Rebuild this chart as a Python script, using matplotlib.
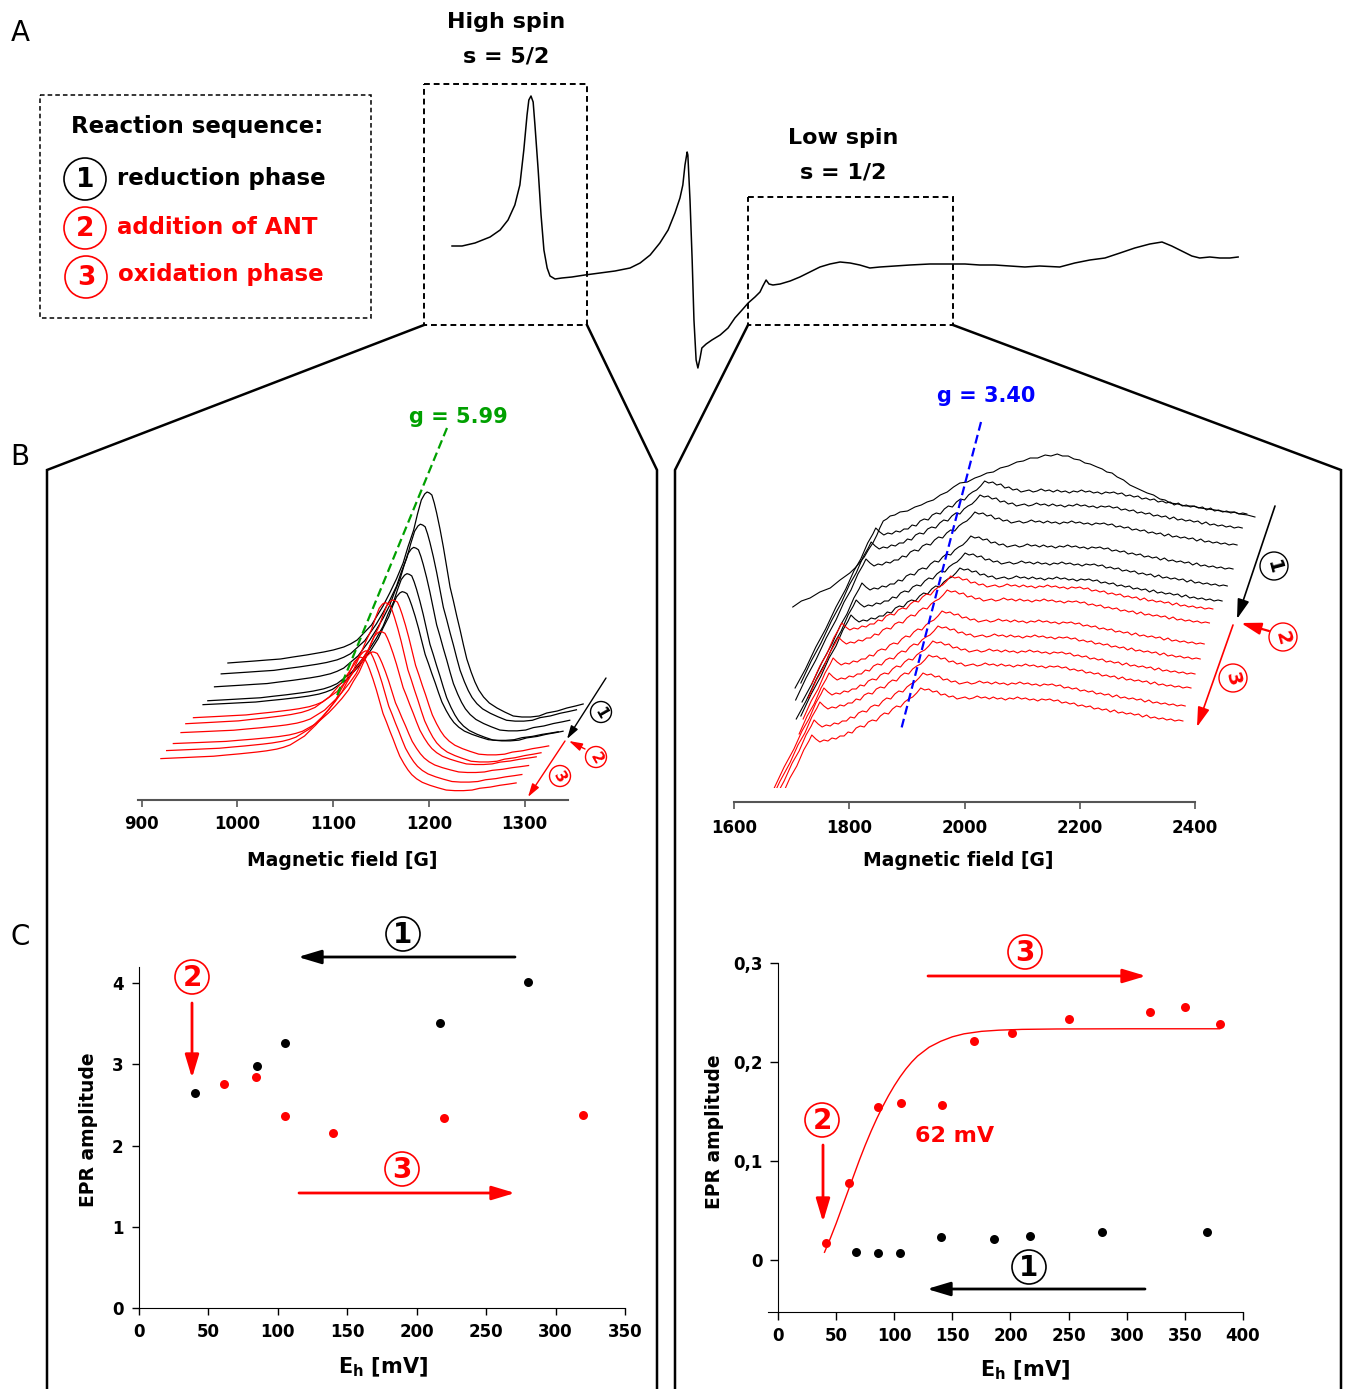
import numpy as np
import matplotlib
matplotlib.use("Agg")
import matplotlib.pyplot as plt
from matplotlib.patches import Rectangle, Circle

plt.rcParams['font.family'] = ['DejaVu Sans']
plt.rcParams['mathtext.fontset'] = 'dejavusans'

# ------------------------------------------------------------------ data
# Panel A: overview EPR spectrum (field in G, signal in a.u.)
a_field = [900, 928, 964, 1006, 1034, 1056, 1075, 1089, 1100, 1109, 1114, 1120, 1126, 1131, 1140, 1148,
           1156, 1165, 1173, 1187, 1206, 1234, 1270, 1312, 1354, 1396, 1424, 1452, 1479, 1502, 1521,
           1535, 1543, 1549, 1555, 1557, 1563, 1569, 1574, 1580, 1585, 1591, 1596, 1608, 1624, 1647,
           1669, 1688, 1708, 1725, 1744, 1758, 1766, 1775, 1783, 1794, 1814, 1842, 1869, 1897, 1925,
           1953, 1981, 2009, 2036, 2064, 2092, 2134, 2176, 2231, 2287, 2329, 2370, 2412, 2454, 2496,
           2537, 2593, 2635, 2677, 2719, 2761, 2802, 2844, 2878, 2905, 2933, 2961, 2983, 3011, 3039,
           3067, 3090]
a_signal = [0.54, 0.54, 0.57, 0.63, 0.70, 0.80, 0.95, 1.15, 1.50, 1.85, 2.00, 2.04, 1.98, 1.75, 1.30,
            0.85, 0.50, 0.32, 0.24, 0.21, 0.22, 0.23, 0.25, 0.27, 0.29, 0.32, 0.37, 0.45, 0.57, 0.70,
            0.87, 1.02, 1.15, 1.35, 1.48, 1.45, 1.00, 0.40, -0.20, -0.60, -0.68, -0.58, -0.48, -0.44,
            -0.40, -0.35, -0.28, -0.18, -0.10, -0.03, 0.03, 0.08, 0.14, 0.20, 0.16, 0.15, 0.16, 0.19,
            0.23, 0.28, 0.33, 0.36, 0.38, 0.37, 0.35, 0.32, 0.33, 0.34, 0.35, 0.36, 0.36, 0.36, 0.35,
            0.35, 0.34, 0.33, 0.34, 0.33, 0.37, 0.40, 0.42, 0.47, 0.52, 0.56, 0.58, 0.54, 0.49, 0.44,
            0.42, 0.43, 0.42, 0.42, 0.43]

# Panel B left: high-spin line shape of the first reduction trace (G, a.u. above baseline)
hs_field = [990, 1004, 1018, 1031, 1045, 1058, 1072, 1090, 1100, 1111, 1118, 1125, 1133, 1140, 1145,
            1152, 1159, 1166, 1173, 1178, 1184, 1188, 1192, 1195.5, 1198, 1200.5, 1203, 1205.5, 1208,
            1211.5, 1215, 1218.5, 1222, 1225.5, 1229, 1232.5, 1236, 1239.5, 1244, 1248, 1252, 1257,
            1263, 1271, 1279, 1288, 1297, 1306, 1315, 1323, 1334, 1344, 1353, 1361]
hs_signal = [-0.01, 0.00, 0.01, 0.02, 0.03, 0.05, 0.07, 0.10, 0.12, 0.15, 0.18, 0.22, 0.30, 0.37, 0.45,
             0.56, 0.69, 0.83, 0.99, 1.15, 1.32, 1.48, 1.62, 1.68, 1.70, 1.69, 1.67, 1.59, 1.49, 1.33,
             1.15, 0.95, 0.75, 0.61, 0.46, 0.32, 0.17, 0.03, -0.10, -0.20, -0.28, -0.35, -0.41, -0.46,
             -0.50, -0.54, -0.55, -0.55, -0.54, -0.51, -0.49, -0.46, -0.44, -0.42]

# Panel C left: high-spin EPR amplitude vs Eh (in measurement order)
hs_red_eh = [280, 217, 105, 85, 40]
hs_red_amp = [4.01, 3.51, 3.27, 2.98, 2.65]
hs_ox_eh = [61, 84, 105, 140, 220, 320]
hs_ox_amp = [2.76, 2.84, 2.37, 2.15, 2.34, 2.38]

# Panel B right: topmost low-spin trace (G, a.u.)
ls_top_field = [1702, 1717, 1732, 1749, 1767, 1784, 1801, 1810, 1819, 1826, 1833, 1841, 1848, 1853,
                1859, 1865, 1871, 1879, 1888, 1901, 1914, 1925, 1935, 1946, 1958, 1970, 1981, 1992,
                2005, 2018, 2028, 2039, 2050, 2062, 2076, 2091, 2102, 2114, 2127, 2140, 2150, 2161,
                2170, 2180, 2190, 2200, 2209, 2218, 2230, 2239, 2247, 2256, 2265, 2276, 2287, 2302,
                2317, 2328, 2339, 2348, 2357, 2370, 2383, 2396, 2409, 2422, 2435, 2445, 2456, 2467,
                2478, 2491, 2504]
ls_top_signal = [1.95, 2.01, 2.04, 2.10, 2.14, 2.22, 2.29, 2.34, 2.40, 2.45, 2.52, 2.59, 2.67, 2.74,
                 2.81, 2.83, 2.86, 2.87, 2.90, 2.91, 2.95, 2.97, 3.00, 3.02, 3.07, 3.10, 3.15, 3.19,
                 3.20, 3.24, 3.26, 3.29, 3.30, 3.34, 3.36, 3.40, 3.41, 3.44, 3.44, 3.47, 3.46, 3.48,
                 3.46, 3.46, 3.43, 3.42, 3.39, 3.38, 3.35, 3.33, 3.30, 3.29, 3.25, 3.22, 3.17, 3.13,
                 3.09, 3.07, 3.03, 3.02, 2.99, 2.98, 2.96, 2.96, 2.94, 2.93, 2.92, 2.91, 2.90, 2.90,
                 2.88, 2.87, 2.85]

# Panel B right: common low-spin line shape, relative to the edge kink (G, a.u.)
ls_rel_field = [-140, -122, -104, -87, -69, -52, -38, -26, -14, -5,
                0, 7, 14, 21, 28, 35, 42, 49, 56, 63, 70, 77, 84, 91, 98, 105, 112, 119, 126, 133,
                140, 147, 154, 161, 168, 175, 182, 189, 196, 203, 210, 217, 224, 231, 238, 245, 252,
                259, 266, 273, 280, 287, 294, 301, 308, 315, 322, 329, 336, 343, 350, 357, 364, 371,
                378, 385, 392, 399, 406, 413, 420, 427, 434, 441, 448, 455, 462, 469, 476, 483, 490,
                497, 504, 511, 518, 525, 532, 539, 546, 553, 560, 567, 574, 581, 588, 595, 602, 609,
                616, 623, 630, 637, 644]
ls_rel_signal = [-1.60, -1.41, -1.19, -1.01, -0.79, -0.61, -0.43, -0.31, -0.15, -0.06,
                 0.00, -0.04, -0.07, -0.05, -0.06, -0.03, -0.04, -0.01, -0.01, 0.03, 0.02, 0.07, 0.09,
                 0.08, 0.13, 0.15, 0.14, 0.19, 0.22, 0.21, 0.26, 0.29, 0.28, 0.33, 0.36, 0.38, 0.42,
                 0.47, 0.45, 0.46, 0.43, 0.44, 0.40, 0.41, 0.38, 0.39, 0.36, 0.37, 0.38, 0.36, 0.37,
                 0.39, 0.37, 0.38, 0.36, 0.38, 0.36, 0.37, 0.35, 0.37, 0.36, 0.38, 0.36, 0.37, 0.35,
                 0.36, 0.34, 0.36, 0.35, 0.36, 0.34, 0.35, 0.32, 0.33, 0.31, 0.32, 0.29, 0.30, 0.28,
                 0.29, 0.26, 0.27, 0.25, 0.26, 0.23, 0.25, 0.22, 0.23, 0.21, 0.22, 0.20, 0.21, 0.18,
                 0.20, 0.17, 0.18, 0.16, 0.17, 0.15, 0.16, 0.14, 0.15, 0.14]

# Panel C right: low-spin EPR amplitude vs Eh
ls_red_eh = [67, 86, 105, 140, 186, 217, 279, 369]
ls_red_amp = [0.008, 0.007, 0.007, 0.023, 0.021, 0.024, 0.028, 0.028]
ls_ox_eh = [41, 61, 86, 106, 141, 169, 201, 250, 320, 350, 380]
ls_ox_amp = [0.017, 0.078, 0.155, 0.159, 0.157, 0.221, 0.229, 0.243, 0.251, 0.256, 0.238]
fit_eh = [40, 45, 50, 55, 60, 65, 70, 75, 80, 85, 90, 95, 100, 105, 110, 115, 120, 130, 140, 150,
          160, 175, 190, 210, 240, 300, 380]
fit_amp = [0.008, 0.022, 0.037, 0.053, 0.069, 0.085, 0.101, 0.116, 0.130, 0.143, 0.155, 0.166, 0.176,
           0.185, 0.193, 0.200, 0.206, 0.215, 0.221, 0.2255, 0.2285, 0.2310, 0.2322, 0.2330, 0.2334,
           0.2336, 0.2336]

b_ticks_left = [900, 1000, 1100, 1200, 1300]
b_ticks_right = [1600, 1800, 2000, 2200, 2400]
c_xticks_left = [0, 50, 100, 150, 200, 250, 300, 350]
c_yticks_left = [0, 1, 2, 3, 4]
c_xticks_right = [0, 50, 100, 150, 200, 250, 300, 350, 400]
c_yticks_right = [0, 0.1, 0.2, 0.3]
c_ylabels_right = ['0', '0,1', '0,2', '0,3']

# ------------------------------------------------------------------ layout (waterfall stacking)
hs_black_shift = [0, -7, -14, -21, -26]
hs_black_level = [1.38, 1.27, 1.14, 1.00, 0.96]
hs_red_shift = [-36, -44, -49, -57, -64, -70]
hs_red_level = [0.83, 0.77, 0.68, 0.57, 0.50, 0.42]
ls_black_kink_field = [1846, 1838, 1829, 1822, 1812, 1803]
ls_black_kink_level = [2.74, 2.60, 2.43, 2.19, 2.02, 1.87]
ls_black_start = [1702, 1702, 1702, 1702, 1702, 1702]
ls_red_kink_field = [1787, 1781, 1772, 1765, 1756, 1749, 1739, 1735]
ls_red_kink_level = [1.79, 1.65, 1.44, 1.29, 1.14, 1.00, 0.82, 0.67]
ls_red_start = [1735, 1728, 1715, 1700, 1590, 1590, 1590, 1590]

W, H = 1350, 1389
RED = '#ff0000'
fig = plt.figure(figsize=(W / 100, H / 100), dpi=100)


def ax_px(x0, y0, x1, y1, **kw):
    return fig.add_axes([x0 / W, 1 - y1 / H, (x1 - x0) / W, (y1 - y0) / H], **kw)


def bold_ticks(ax, size=12, family=None):
    for lab in ax.get_xticklabels() + ax.get_yticklabels():
        lab.set_fontweight('bold')
        lab.set_fontsize(size)
        if family:
            lab.set_family(family)


# ------------------------------------------------------------------ panel A
axA = ax_px(440, 80, 1250, 380)
axA.plot(a_field, a_signal, color='k', lw=1.1)
axA.set_xlim(866.5, 3123.1)
axA.set_ylim(-0.8, 2.2)
axA.axis('off')

# ------------------------------------------------------------------ panel B left
bl = ax_px(138, 400, 600, 800)
ref_amp = hs_red_amp[0]
hf = np.array(hs_field)
hsg = np.array(hs_signal)
for amp, sh, lev in zip(hs_red_amp, hs_black_shift, hs_black_level):
    bl.plot(hf + sh, lev + hsg * amp / ref_amp, color='k', lw=0.9)
for amp, sh, lev in zip(hs_ox_amp, hs_red_shift, hs_red_level):
    bl.plot(hf + sh, lev + hsg * amp / ref_amp, color=RED, lw=0.9)
bl.set_xlim(896.1, 1378.6)
bl.set_ylim(0, 4)
for s in ['top', 'right', 'left']:
    bl.spines[s].set_visible(False)
bl.spines['bottom'].set_bounds(896.1, 1345)
bl.spines['bottom'].set_color('#555555')
bl.spines['bottom'].set_linewidth(1.5)
bl.set_yticks([])
bl.set_xticks(b_ticks_left)
bl.tick_params(axis='x', length=5, width=1.2, color='#555555', pad=6)
bold_ticks(bl, 12)
bl.patch.set_alpha(0)

# ------------------------------------------------------------------ panel B right
br = ax_px(734, 400, 1300, 788)
br.plot(ls_top_field, ls_top_signal, color='k', lw=0.8)
rf = np.array(ls_rel_field)
rs = np.array(ls_rel_signal)
for kf, kl, st in zip(ls_black_kink_field, ls_black_kink_level, ls_black_start):
    keep = rf + kf >= st
    br.plot((rf + kf)[keep], (rs + kl)[keep], color='k', lw=0.8)
for kf, kl, st in zip(ls_red_kink_field, ls_red_kink_level, ls_red_start):
    keep = rf + kf >= st
    br.plot((rf + kf)[keep], (rs + kl)[keep], color=RED, lw=0.8)
br.set_xlim(1600, 2582.2)
br.set_ylim(0.14, 4.02)
for s in ['top', 'right', 'left']:
    br.spines[s].set_visible(False)
br.spines['bottom'].set_position(('outward', 10))
br.spines['bottom'].set_bounds(1600, 2400)
br.spines['bottom'].set_color('#555555')
br.spines['bottom'].set_linewidth(1.5)
br.set_yticks([])
br.set_xticks(b_ticks_right)
br.tick_params(axis='x', length=5, width=1.2, color='#555555', pad=7)
bold_ticks(br, 12)
br.patch.set_alpha(0)

# ------------------------------------------------------------------ panel C left
cl = ax_px(139, 967, 625, 1308)
cl.scatter(hs_red_eh, hs_red_amp, s=42, color='k', zorder=3, linewidths=0)
cl.scatter(hs_ox_eh, hs_ox_amp, s=42, color=RED, zorder=3, linewidths=0)
cl.set_xlim(0, 350)
cl.set_ylim(0, 4.2)
cl.spines['top'].set_visible(False)
cl.spines['right'].set_visible(False)
cl.set_xticks(c_xticks_left)
cl.set_yticks(c_yticks_left)
cl.tick_params(length=5, width=1.0, pad=6)
bold_ticks(cl, 12)
cl.patch.set_alpha(0)

# ------------------------------------------------------------------ panel C right
cr = ax_px(768, 963, 1243, 1311.7)
cr.plot(fit_eh, fit_amp, color=RED, lw=1.0)
cr.scatter(ls_red_eh, ls_red_amp, s=42, color='k', zorder=3, linewidths=0)
cr.scatter(ls_ox_eh, ls_ox_amp, s=42, color=RED, zorder=3, linewidths=0)
cr.set_xlim(-8.6, 400)
cr.set_ylim(-0.052, 0.3)
cr.spines['top'].set_visible(False)
cr.spines['right'].set_visible(False)
cr.spines['left'].set_position(('data', 0))
cr.set_xticks(c_xticks_right)
cr.set_yticks(c_yticks_right)
cr.set_yticklabels(c_ylabels_right)
cr.tick_params(length=6, width=1.0, pad=5)
bold_ticks(cr, 12)
cr.patch.set_alpha(0)

# ------------------------------------------------------------------ overlay decorations
ov = fig.add_axes([0, 0, 1, 1], zorder=10)
ov.set_xlim(0, W)
ov.set_ylim(H, 0)
ov.axis('off')

# panel letters
for txt, y in [('A', 33), ('B', 457), ('C', 937)]:
    ov.text(20, y, txt, fontsize=20, ha='center', va='center')

# dashed boxes
dash = (0, (3, 2))
ov.add_patch(Rectangle((40, 95), 331, 223, fill=False, ec='k', lw=1.1, ls=dash))
ov.add_patch(Rectangle((424, 84), 163, 241, fill=False, ec='k', lw=1.4, ls=dash))
ov.add_patch(Rectangle((748, 197), 205, 128, fill=False, ec='k', lw=1.4, ls=dash))

# zoom connector lines
for xs in ([424, 47, 47], [587, 657, 657], [748, 675, 675], [953, 1341, 1341]):
    ov.plot(xs, [325, 470, 1389], color='k', lw=1.8, solid_joinstyle='miter')

# titles panel A
ov.text(506, 22, 'High spin', fontsize=16, fontweight='bold', ha='center', va='center')
ov.text(506, 56, 's = 5/2', fontsize=16, fontweight='bold', ha='center', va='center')
ov.text(843, 138, 'Low spin', fontsize=16, fontweight='bold', ha='center', va='center')
ov.text(843, 172, 's = 1/2', fontsize=16, fontweight='bold', ha='center', va='center')


def circ_num(x, y, r, txt, color, fs, rot=0, lw=1.2):
    ov.add_patch(Circle((x, y), r, fill=False, ec=color, lw=lw))
    ov.text(x, y + 1, txt, color=color, fontsize=fs, fontweight='bold', ha='center',
            va='center', rotation=rot, rotation_mode='anchor')


def arrow(x0, y0, x1, y1, color, lw, ms, hl=1.0, hw=0.3):
    ov.annotate('', xy=(x1, y1), xytext=(x0, y0),
                arrowprops=dict(arrowstyle=f'-|>,head_length={hl},head_width={hw}', color=color,
                                lw=lw, shrinkA=0, shrinkB=0, mutation_scale=ms))


# legend in panel A
ov.text(71, 127, 'Reaction sequence:', fontsize=16.5, fontweight='bold', ha='left', va='center')
circ_num(85, 179, 21, '1', 'k', 19)
circ_num(85, 228, 21, '2', RED, 19)
circ_num(86, 277, 21, '3', RED, 19)
ov.text(117, 178, 'reduction phase', fontsize=16.5, fontweight='bold', ha='left', va='center')
ov.text(117, 227, 'addition of ANT', fontsize=16.5, fontweight='bold', ha='left', va='center', color=RED)
ov.text(118, 274, 'oxidation phase', fontsize=16.5, fontweight='bold', ha='left', va='center', color=RED)

# panel B markers
ov.plot([447, 336], [428, 698], color='#00a000', lw=1.6, ls=(0, (4, 2)))
ov.text(458, 417, 'g = 5.99', color='#00a000', fontsize=15, fontweight='bold', ha='center', va='center')
ov.plot([981, 901], [422, 730], color='#0000ff', lw=1.6, ls=(0, (4, 2)))
ov.text(986, 396, 'g = 3.40', color='#0000ff', fontsize=15, fontweight='bold', ha='center', va='center')

arrow(606, 678, 567, 739, 'k', 1.0, 8)
arrow(585, 749, 569, 741, RED, 1.0, 8)
arrow(565, 741, 528, 797, RED, 1.0, 8)
circ_num(601, 712, 10.5, '1', 'k', 11, rot=-60, lw=1.0)
circ_num(596, 757, 10.5, '2', RED, 11, rot=-60, lw=1.0)
circ_num(560, 776, 10.5, '3', RED, 11, rot=-60, lw=1.0)

arrow(1275, 506, 1237, 619, 'k', 1.2, 12)
arrow(1269, 631, 1241, 623, RED, 1.6, 12)
arrow(1233, 625, 1197, 727, RED, 1.2, 12)
circ_num(1274, 566, 14, '1', 'k', 14, rot=-75, lw=1.0)
circ_num(1283, 637, 14, '2', RED, 14, rot=-75, lw=1.0)
circ_num(1233, 678, 14, '3', RED, 14, rot=-75, lw=1.0)

ov.text(342, 860, 'Magnetic field [G]', fontsize=13.5, fontweight='bold', ha='center', va='center')
ov.text(958, 861, 'Magnetic field [G]', fontsize=13.5, fontweight='bold', ha='center', va='center')

# panel C annotations
arrow(515, 957, 298, 957, 'k', 2.0, 14, hl=1.0, hw=0.3)
circ_num(403, 934, 17, '1', 'k', 20)
arrow(299, 1193, 515, 1193, RED, 2.0, 14, hl=1.0, hw=0.3)
circ_num(402, 1169, 17, '3', RED, 20)
arrow(192, 1003, 192, 1078, RED, 2.0, 14, hl=1.0, hw=0.3)
circ_num(192, 977, 17, '2', RED, 20)

arrow(928, 976, 1146, 976, RED, 2.0, 14, hl=1.0, hw=0.3)
circ_num(1025, 952, 17, '3', RED, 20)
arrow(823, 1145, 823, 1222, RED, 2.0, 14, hl=1.0, hw=0.3)
circ_num(822, 1120, 17, '2', RED, 20)
arrow(1145, 1289, 927, 1289, 'k', 2.0, 14, hl=1.0, hw=0.3)
circ_num(1029, 1267, 17, '1', 'k', 20)
ov.text(955, 1136, '62 mV', color=RED, fontsize=16, fontweight='bold', ha='center', va='center')

ov.text(88, 1130, 'EPR amplitude', fontsize=13.5, fontweight='bold', rotation=90, ha='center', va='center')
ov.text(715, 1132, 'EPR amplitude', fontsize=13.5, fontweight='bold', rotation=90, ha='center', va='center')
ov.text(383, 1367, r'E$_\mathbf{h}$ [mV]', fontsize=15, fontweight='bold', ha='center', va='center')
ov.text(1025, 1370, r'E$_\mathbf{h}$ [mV]', fontsize=15, fontweight='bold', ha='center', va='center')

fig.savefig('out.png', dpi=100)
